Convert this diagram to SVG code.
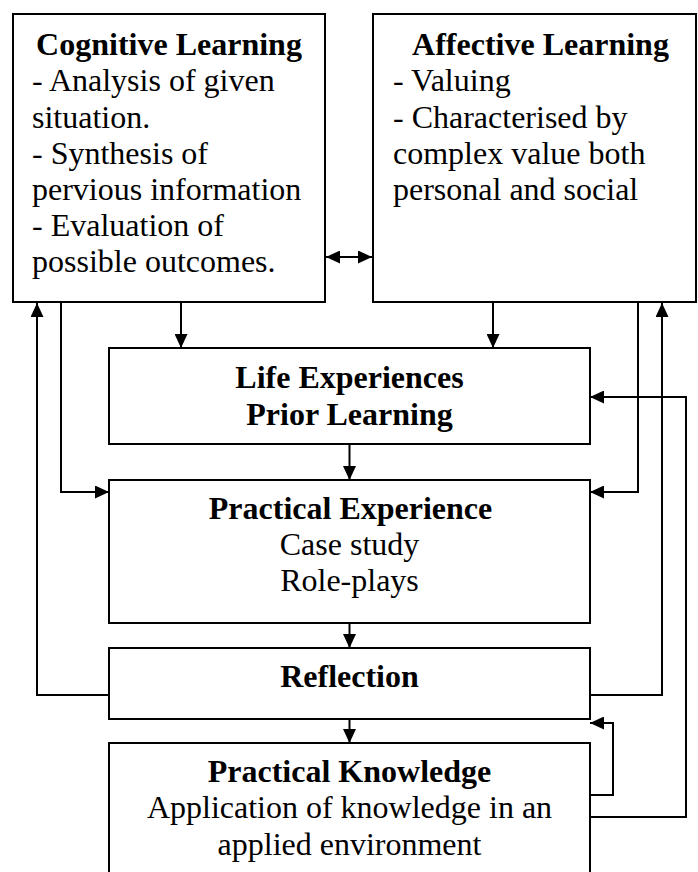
<svg xmlns="http://www.w3.org/2000/svg" width="698" height="872" viewBox="0 0 698 872">
<style>
.box{fill:#fff;stroke:#000;stroke-width:2}
.t{font-family:"Liberation Serif","Times New Roman",serif;font-size:32px;fill:#000}
.b{font-weight:bold}
.c{text-anchor:middle}
.ln{fill:none;stroke:#000;stroke-width:2}
</style>
<defs>
<marker id="ah" markerWidth="14" markerHeight="13" refX="14" refY="6.5" orient="auto" markerUnits="userSpaceOnUse">
<path d="M0,0 L14,6.5 L0,13 Z" fill="#000"/>
</marker>
<marker id="as" markerWidth="14" markerHeight="13" refX="0" refY="6.5" orient="auto" markerUnits="userSpaceOnUse">
<path d="M14,0 L0,6.5 L14,13 Z" fill="#000"/>
</marker>
</defs>
<rect width="698" height="872" fill="#fff"/>
<g id="connectors">
<path class="ln" d="M326,257 L372,257" marker-start="url(#as)" marker-end="url(#ah)"/>
<path class="ln" d="M181,302 L181,348" marker-end="url(#ah)"/>
<path class="ln" d="M493,302 L493,348" marker-end="url(#ah)"/>
<path class="ln" d="M61,302 L61,492 L109,492" marker-end="url(#ah)"/>
<path class="ln" d="M638,302 L638,492 L590,492" marker-end="url(#ah)"/>
<path class="ln" d="M349.5,444 L349.5,480" marker-end="url(#ah)"/>
<path class="ln" d="M349.5,623 L349.5,648" marker-end="url(#ah)"/>
<path class="ln" d="M349.5,719 L349.5,743" marker-end="url(#ah)"/>
<path class="ln" d="M109,695 L37,695 L37,303" marker-end="url(#ah)"/>
<path class="ln" d="M590,695 L662,695 L662,303" marker-end="url(#ah)"/>
<path class="ln" d="M590,795 L613,795 L613,723 L590,723" marker-end="url(#ah)"/>
<path class="ln" d="M590,817 L686,817 L686,397 L590,397" marker-end="url(#ah)"/>
</g>
<g id="cognitive">
<rect class="box" x="13" y="14" width="312" height="288"/>
<text class="t b c" x="169" y="55">Cognitive Learning</text>
<text class="t" x="32" y="91">- Analysis of given</text>
<text class="t" x="32" y="127.5">situation.</text>
<text class="t" x="32" y="164">- Synthesis of</text>
<text class="t" x="32" y="200">pervious information</text>
<text class="t" x="32" y="236">- Evaluation of</text>
<text class="t" x="32" y="272">possible outcomes.</text>
</g>
<g id="affective">
<rect class="box" x="373" y="14" width="323" height="288"/>
<text class="t b c" x="540.5" y="55">Affective Learning</text>
<text class="t" x="393" y="91">- Valuing</text>
<text class="t" x="393" y="127.5">- Characterised by</text>
<text class="t" x="393" y="164">complex value both</text>
<text class="t" x="393" y="200">personal and social</text>
</g>
<g id="life">
<rect class="box" x="109" y="348" width="481" height="96"/>
<text class="t b c" x="349.5" y="388">Life Experiences</text>
<text class="t b c" x="349.5" y="425">Prior Learning</text>
</g>
<g id="practical-experience">
<rect class="box" x="109" y="480" width="481" height="143"/>
<text class="t b c" x="350.5" y="519">Practical Experience</text>
<text class="t c" x="349.5" y="555">Case study</text>
<text class="t c" x="349.5" y="591">Role-plays</text>
</g>
<g id="reflection">
<rect class="box" x="109" y="648" width="481" height="71"/>
<text class="t b c" x="349.5" y="687">Reflection</text>
</g>
<g id="practical-knowledge">
<rect class="box" x="109" y="743" width="481" height="140"/>
<text class="t b c" x="349.5" y="782">Practical Knowledge</text>
<text class="t c" x="349.5" y="818">Application of knowledge in an</text>
<text class="t c" x="349.5" y="855">applied environment</text>
</g>
</svg>
